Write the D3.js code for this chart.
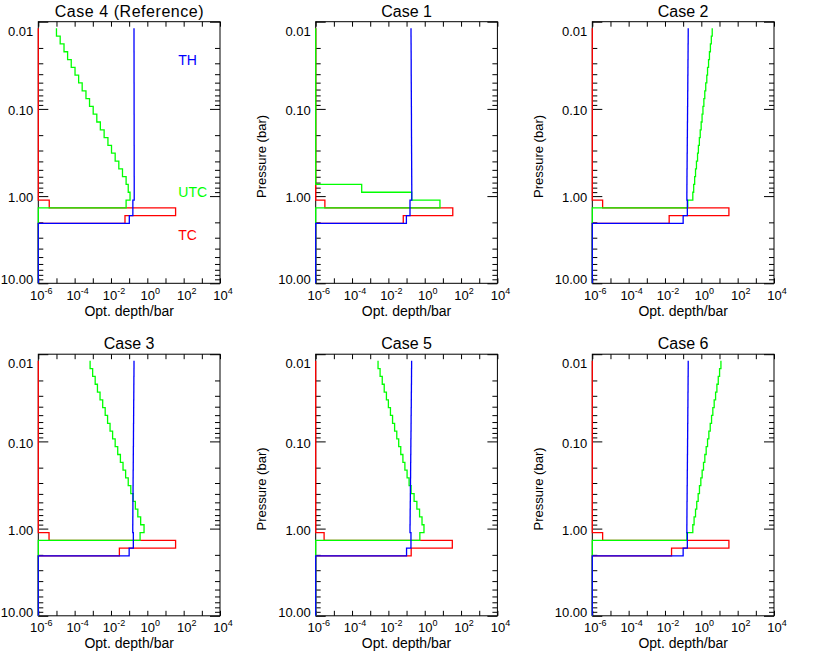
<!DOCTYPE html>
<html><head><meta charset="utf-8">
<script src="https://cdn.jsdelivr.net/npm/d3@7"></script>
<style>body{margin:0;background:#fff} text{font-family:"Liberation Sans",Arial,sans-serif}</style>
</head><body><svg id="c" width="830" height="664" style="background:#fff"></svg>
<script>
// Layer edges (bar), top to bottom
const pressureEdges = [0.01192,0.01465,0.01800,0.02212,0.02718,0.03340,0.04104,0.05043,0.06197,0.07615,0.09361,0.1150,0.1413,0.1737,0.2134,0.2623,0.3223,0.3961,0.4867,0.5981,0.7350,0.9033,1.110,1.364,1.676,2.060,10];
const F = 1e-6; // off-scale low (drawn on the axis)

// Case 4 (Reference)
const TH_case4  = [0.185,0.185,0.185,0.186,0.186,0.186,0.186,0.187,0.187,0.187,0.187,0.188,0.188,0.188,0.188,0.189,0.189,0.189,0.189,0.190,0.190,0.190,0.160,0.160,0.102,F];
const UTC_case4 = [1.0e-5,1.6e-5,2.6e-5,4.1e-5,6.5e-5,1.05e-4,1.66e-4,2.6e-4,4.2e-4,6.6e-4,1.05e-3,1.66e-3,2.6e-3,4.2e-3,6.8e-3,1.07e-2,1.7e-2,2.7e-2,4.3e-2,6.8e-2,8.9e-2,0.112,0.068,F,F,F];
const TC_case4  = [F,F,F,F,F,F,F,F,F,F,F,F,F,F,F,F,F,F,F,F,F,F,4.0e-6,36,0.059,F];
// Case 1
const TH_case1  = [0.176,0.177,0.178,0.179,0.180,0.180,0.181,0.182,0.183,0.184,0.185,0.186,0.186,0.187,0.188,0.189,0.190,0.191,0.192,0.193,0.194,0.195,0.155,0.155,0.098,F];
const UTC_case1 = [F,F,F,F,F,F,F,F,F,F,F,F,F,F,F,F,F,F,F,F,3.4e-4,0.19,6.9,F,F,F];
const TC_case1  = [F,F,F,F,F,F,F,F,F,F,F,F,F,F,F,F,F,F,F,F,F,F,3.2e-6,35,0.066,F];
// Case 2
const TH_case2  = [0.190,0.189,0.187,0.186,0.184,0.183,0.181,0.180,0.178,0.177,0.175,0.174,0.172,0.171,0.169,0.168,0.166,0.165,0.163,0.162,0.161,0.160,0.170,0.170,0.100,F];
const UTC_case2 = [3.98,3.55,3.16,2.8,2.5,2.2,2.0,1.75,1.55,1.38,1.23,1.1,0.98,0.87,0.78,0.69,0.62,0.54,0.48,0.43,0.38,0.34,0.18,F,F,F];
const TC_case2  = [F,F,F,F,F,F,F,F,F,F,F,F,F,F,F,F,F,F,F,F,F,F,3.7e-6,33,0.017,F];
// Case 3
const TH_case3  = [0.185,0.184,0.182,0.181,0.180,0.178,0.177,0.176,0.174,0.173,0.172,0.170,0.169,0.168,0.166,0.165,0.164,0.162,0.161,0.160,0.159,0.158,0.170,0.170,0.100,F];
const UTC_case3 = [7.1e-4,9.8e-4,1.35e-3,1.8e-3,2.5e-3,3.5e-3,4.8e-3,6.5e-3,8.9e-3,1.23e-2,1.7e-2,2.35e-2,3.3e-2,4.6e-2,6.4e-2,8.9e-2,0.123,0.166,0.22,0.30,0.43,0.66,0.40,F,F,F];
const TC_case3  = [F,F,F,F,F,F,F,F,F,F,F,F,F,F,F,F,F,F,F,F,F,F,3.9e-6,36,0.029,F];
// Case 5
const TH_case5  = [0.190,0.188,0.187,0.185,0.183,0.182,0.180,0.178,0.177,0.175,0.173,0.172,0.170,0.168,0.167,0.165,0.163,0.162,0.160,0.158,0.157,0.155,0.175,0.175,0.100,F];
const UTC_case5 = [2.7e-3,3.5e-3,4.6e-3,5.9e-3,7.8e-3,1.0e-2,1.3e-2,1.7e-2,2.2e-2,2.9e-2,3.7e-2,4.8e-2,6.3e-2,8.1e-2,0.107,0.138,0.178,0.26,0.37,0.52,0.71,0.91,0.54,F,F,F];
const TC_case5  = [F,F,F,F,F,F,F,F,F,F,F,F,F,F,F,F,F,F,F,F,F,F,2.9e-6,33,0.18,F];
// Case 6
const TH_case6  = [0.190,0.189,0.187,0.186,0.184,0.183,0.181,0.180,0.178,0.177,0.175,0.174,0.172,0.171,0.169,0.168,0.166,0.165,0.163,0.162,0.161,0.160,0.170,0.170,0.100,F];
const UTC_case6 = [12.0,10.1,8.55,7.2,6.1,5.1,4.3,3.66,3.09,2.6,2.2,1.85,1.56,1.32,1.11,0.94,0.79,0.67,0.56,0.48,0.40,0.34,0.16,F,F,F];
const TC_case6  = [F,F,F,F,F,F,F,F,F,F,F,F,F,F,F,F,F,F,F,F,F,F,3.7e-6,33,0.023,F];

const caseTitles = ["Case 4 (Reference)","Case 1","Case 2","Case 3","Case 5","Case 6"];
const yTickValues = [0.01,0.1,1,10];
const yTickLabels = ["0.01","0.10","1.00","10.00"];
const xTickValues = [1e-6,1e-5,1e-4,1e-3,1e-2,1e-1,1,10,100,1e3,1e4];
const xLabelValues = [1e-6,1e-4,1e-2,1,100,1e4];
const xLabelExponents = ["-6","-4","-2","0","2","4"];
const legendNames = ["TH","UTC","TC"];

const COL = {TH:"#0000ff", UTC:"#00ff00", TC:"#ff0000"};
const panels = [
  {t:caseTitles[0], th:TH_case4, utc:UTC_case4, tc:TC_case4, col:0,row:0},
  {t:caseTitles[1], th:TH_case1, utc:UTC_case1, tc:TC_case1, col:1,row:0},
  {t:caseTitles[2], th:TH_case2, utc:UTC_case2, tc:TC_case2, col:2,row:0},
  {t:caseTitles[3], th:TH_case3, utc:UTC_case3, tc:TC_case3, col:0,row:1},
  {t:caseTitles[4], th:TH_case5, utc:UTC_case5, tc:TC_case5, col:1,row:1},
  {t:caseTitles[5], th:TH_case6, utc:UTC_case6, tc:TC_case6, col:2,row:1},
];
const colX=[38.3,315.7,592.3], rowY=[21.7,354.2], W=181.7, H=261.6;
const svg = d3.select("#c");
const FONT='"Liberation Sans",Arial,sans-serif';

panels.forEach((p,idx)=>{
  const x0=colX[p.col], y0=rowY[p.row];
  const x=d3.scaleLog().domain([1e-6,1e4]).range([x0,x0+W]);
  const y=d3.scaleLog().domain([0.01,10]).range([y0,y0+H]);
  const g=svg.append("g");
  g.append("rect").attr("x",x0).attr("y",y0).attr("width",W).attr("height",H)
    .attr("fill","none").attr("stroke","#000").attr("stroke-width",1);

  const minor = y.ticks().filter(v=>!yTickValues.some(m=>Math.abs(m-v)/m<1e-6));
  const styleAx = a=>{a.select(".domain").remove(); a.selectAll("line").attr("stroke","#000").attr("stroke-width",1);
    a.attr("font-family",FONT);};
  // left major
  const la=g.append("g").attr("transform",`translate(${x0},0)`)
    .call(d3.axisLeft(y).tickValues(yTickValues).tickSize(-10).tickPadding(5).tickFormat((d,i)=>yTickLabels[i]));
  styleAx(la); la.attr("font-size",13);
  la.selectAll("text").attr("fill","#000").attr("dy",(d,i)=> i===0? "1.05em" : (i===3? "0.05em" : "0.45em"));
  g.append("g").attr("transform",`translate(${x0},0)`)
    .call(d3.axisLeft(y).tickValues(minor).tickSize(-5).tickFormat("")).call(styleAx);
  g.append("g").attr("transform",`translate(${x0+W},0)`)
    .call(d3.axisRight(y).tickValues(yTickValues).tickSize(-10).tickFormat("")).call(styleAx);
  g.append("g").attr("transform",`translate(${x0+W},0)`)
    .call(d3.axisRight(y).tickValues(minor).tickSize(-5).tickFormat("")).call(styleAx);
  // x axes
  g.append("g").attr("transform",`translate(0,${y0+H})`)
    .call(d3.axisBottom(x).tickValues(xTickValues).tickSize(-5).tickFormat("")).call(styleAx);
  g.append("g").attr("transform",`translate(0,${y0})`)
    .call(d3.axisTop(x).tickValues(xTickValues).tickSize(-5).tickFormat("")).call(styleAx);
  xLabelValues.forEach((v,i)=>{
    const t=g.append("text").attr("x",x(v)+3).attr("y",y0+H+16.5).attr("text-anchor","middle")
      .attr("font-size",13).attr("fill","#000");
    t.append("tspan").text("10");
    t.append("tspan").attr("dy",-6).attr("font-size",9).text(xLabelExponents[i]);
  });
  g.append("text").attr("x",x0+W/2).attr("y",y0+H+32.5).attr("text-anchor","middle")
    .attr("font-size",14).attr("fill","#000").text("Opt. depth/bar");
  const tt=g.append("text").attr("x",x0+W/2).attr("y",y0-5.2).attr("text-anchor","middle")
    .attr("font-size",16).attr("fill","#000").text(p.t);
  if(idx===0) tt.attr("textLength",149).attr("lengthAdjust","spacing");
  if(p.col>0){
    g.append("text").attr("transform",`translate(${x0-54},${y0+H/2+4}) rotate(-90)`)
      .attr("text-anchor","middle").attr("dominant-baseline","central")
      .attr("font-size",13).attr("fill","#000").text("Pressure (bar)");
  }
  const step = vals=>{
    const pts=[]; vals.forEach((v,i)=>{pts.push([v,pressureEdges[i]]); pts.push([v,pressureEdges[i+1]]);});
    return d3.line().x(d=>x(d[0])).y(d=>y(d[1]))(pts);
  };
  [["TC",p.tc],["UTC",p.utc],["TH",p.th]].forEach(([k,vals])=>{
    g.append("path").attr("d",step(vals)).attr("fill","none").attr("stroke",COL[k])
      .attr("stroke-width",1.3).attr("stroke-linejoin","miter");
  });
  if(idx===0){
    const ly=[65,197,240];
    legendNames.forEach((n,i)=>{
      g.append("text").attr("x",x0+140).attr("y",ly[i]).attr("font-size",14)
        .attr("fill",COL[n]).text(n);
    });
  }
});
</script></body></html>
